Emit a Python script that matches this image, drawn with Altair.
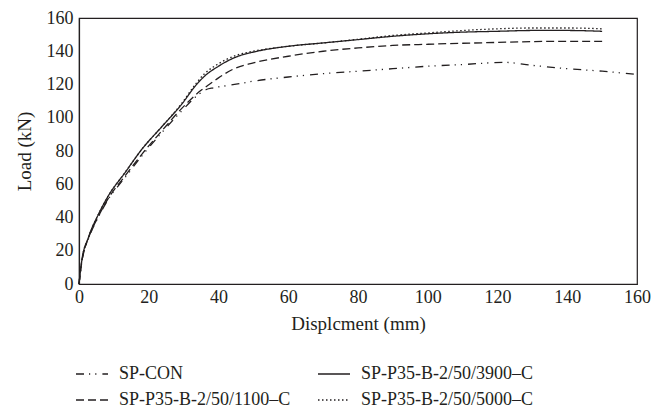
import altair as alt
import pandas as pd

# order chosen so the 2-column legend reads: row1 SP-CON | 3900, row2 1100 | 5000
series_names = ["SP-CON", "SP-P35-B-2/50/1100–C", "SP-P35-B-2/50/3900–C", "SP-P35-B-2/50/5000–C"]

con_x = [0, 0.8, 2.7, 5.5, 8.4, 13.2, 18, 23.7, 29.4, 34, 36.5, 38.5, 42, 46, 50, 60, 70, 80, 90, 100, 110, 122, 130, 140, 150, 160]
con_y = [0, 13, 27, 40, 51, 64, 77, 91, 104, 113.5, 117, 118, 119.2, 120.5, 122, 124.5, 126.5, 128, 129.5, 131, 132, 133.3, 131.5, 129.5, 128, 126]

s1100_x = [0, 0.8, 2.7, 5.5, 8.4, 13.2, 18, 23.7, 29.4, 35, 37, 40, 44, 50, 60, 70, 80, 90, 100, 110, 120, 130, 140, 150]
s1100_y = [0, 13.5, 27.5, 40.5, 51.5, 65, 78, 92, 105.5, 116.5, 119.5, 124, 129, 133, 137, 140, 142, 143.5, 144.2, 144.8, 145.3, 145.8, 146, 146]

s3900_x = [0, 0.8, 2.7, 5.5, 8.4, 13.2, 18, 23.7, 29.4, 33.7, 36, 40, 45, 50, 60, 70, 80, 90, 100, 110, 120, 130, 140, 150]
s3900_y = [0, 14, 28, 41.6, 53, 67, 81, 94.5, 108, 120, 125, 131, 136.5, 139.5, 143, 145, 147, 149, 150.5, 151.5, 152, 152.5, 152.5, 152]

s5000_x = [0, 0.8, 2.7, 5.5, 8.4, 13.2, 18, 23.7, 29.4, 33.7, 36, 40, 45, 50, 60, 70, 80, 90, 100, 110, 120, 130, 140, 150]
s5000_y = [0, 14, 28, 41.6, 53, 67, 81, 94.5, 108.5, 121, 126.5, 132.5, 137.5, 140, 143, 145, 147.2, 149.5, 151, 152.5, 153.5, 154, 154, 153.5]

x_ticks = [0, 20, 40, 60, 80, 100, 120, 140, 160]
y_ticks = [0, 20, 40, 60, 80, 100, 120, 140, 160]

rows = []
for name, xs, ys in [
    (series_names[0], con_x, con_y),
    (series_names[1], s1100_x, s1100_y),
    (series_names[2], s3900_x, s3900_y),
    (series_names[3], s5000_x, s5000_y),
]:
    for xv, yv in zip(xs, ys):
        rows.append({"series": name, "disp": xv, "load": yv})
df = pd.DataFrame(rows)

FONT = "Liberation Serif"
INK = "#231f20"

dashes = [[8, 5, 1.2, 5, 1.2, 6], [8, 4], [1, 0], [1.5, 2.5]]

chart = (
    alt.Chart(df)
    .mark_line(strokeWidth=1.3, color=INK, interpolate="monotone")
    .encode(
        x=alt.X(
            "disp:Q",
            title="Displcment (mm)",
            scale=alt.Scale(domain=[0, 160], nice=False),
            axis=alt.Axis(values=x_ticks, ticks=False, grid=False, labelFlush=False,
                          labelPadding=4, titlePadding=8),
        ),
        y=alt.Y(
            "load:Q",
            title="Load (kN)",
            scale=alt.Scale(domain=[0, 160], nice=False),
            axis=alt.Axis(values=y_ticks, ticks=False, grid=False, labelFlush=False,
                          labelPadding=6, titlePadding=12),
        ),
        strokeDash=alt.StrokeDash(
            "series:N",
            sort=series_names,
            scale=alt.Scale(domain=series_names, range=dashes),
            legend=alt.Legend(
                title=None,
                orient="none",
                legendX=-4,
                legendY=339,
                columns=2,
                columnPadding=24,
                rowPadding=-2,
                symbolType="stroke",
                symbolSize=1024,
                symbolStrokeWidth=1.3,
                symbolStrokeColor=INK,
                labelFontSize=18,
                labelFont=FONT,
                labelColor=INK,
                labelOffset=10,
                labelLimit=300,
            ),
        ),
        detail="series:N",
    )
    .properties(
        width=558,
        height=266,
        autosize=alt.AutoSizeParams(type="none"),
        padding={"left": 71, "top": 10, "right": 22, "bottom": 130},
    )
    .configure_view(stroke=INK, strokeWidth=1.2)
    .configure_axis(
        domainColor=INK,
        domainWidth=1.2,
        labelFont=FONT,
        labelFontSize=18,
        labelColor=INK,
        titleFont=FONT,
        titleFontSize=19,
        titleColor=INK,
        titleFontWeight="normal",
    )
)

chart.save("out.html", embed_options={"renderer": "svg", "actions": False})
